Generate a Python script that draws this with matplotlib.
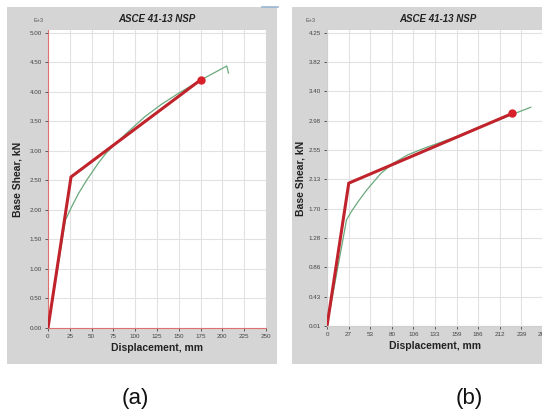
import matplotlib
matplotlib.use("Agg")
from matplotlib import pyplot as plt
from matplotlib.patches import Rectangle

plt.rcParams['font.family'] = ['Liberation Sans', 'DejaVu Sans']

# panel (a) values, base shear in E+3 kN
disp_a_curve = [0, 20, 27, 35, 45, 58, 67, 90, 111, 130, 150, 175, 190, 205, 207]
shear_a_curve = [0, 1.83, 2.05, 2.28, 2.52, 2.80, 2.97, 3.30, 3.58, 3.79, 3.98, 4.20, 4.32, 4.44, 4.32]
disp_a_bilin = [0, 26.4, 175.5]
shear_a_bilin = [0, 2.56, 4.21]
xticks_a = [0, 25, 50, 75, 100, 125, 150, 175, 200, 225, 250]
yticks_a = [0, 0.5, 1.0, 1.5, 2.0, 2.5, 3.0, 3.5, 4.0, 4.5, 5.0]
ylabels_a = ["0.00", "0.50", "1.00", "1.50", "2.00", "2.50", "3.00", "3.50", "4.00", "4.50", "5.00"]

# panel (b) values
disp_b_curve = [0, 24, 30, 38, 48, 58, 66, 80, 99, 120, 139, 160, 180, 205, 228, 250]
shear_b_curve = [0, 1.54, 1.66, 1.80, 1.96, 2.10, 2.21, 2.35, 2.48, 2.58, 2.66, 2.75, 2.85, 2.96, 3.07, 3.17]
disp_b_bilin = [0, 26.7, 227.3]
shear_b_bilin = [0, 2.07, 3.08]
xticks_b = [0, 26.5, 53, 79.5, 106, 132.5, 159, 185.5, 212, 238.5, 265]
xlabels_b = ["0", "27", "53", "80", "106", "133", "159", "186", "212", "239", "265"]
yticks_b = [0, 0.425, 0.85, 1.275, 1.7, 2.125, 2.55, 2.975, 3.4, 3.825, 4.25]
ylabels_b = ["0.01", "0.43", "0.86", "1.28", "1.70", "2.13", "2.55", "2.98", "3.40", "3.82", "4.25"]

W, H = 542, 419
def fx(px):
	return px / W
def fy(py):
	return 1 - py / H

fig = plt.figure(figsize=(W / 100, H / 100), dpi=100)
fig.patch.set_facecolor("white")

frame_col = "#d5d5d5"
fig.patches.append(Rectangle((fx(7), fy(364)), fx(277) - fx(7), fy(7) - fy(364),
	transform=fig.transFigure, facecolor=frame_col, edgecolor="none", zorder=-2))
fig.patches.append(Rectangle((fx(292), fy(364)), fx(545) - fx(292), fy(7) - fy(364),
	transform=fig.transFigure, facecolor=frame_col, edgecolor="none", zorder=-2))
fig.lines.append(plt.Line2D([fx(262), fx(278)], [fy(7), fy(7)], transform=fig.transFigure,
	color="#9ab6d0", lw=1.2, zorder=-1))

def make_panel(rect, xlim, ylim, xticks, xlabels, yticks, ylabels, spine_col, ypad):
	ax = fig.add_axes(rect)
	ax.set_zorder(1)
	ax.set_facecolor("white")
	ax.set_xlim(*xlim)
	ax.set_ylim(*ylim)
	ax.set_xticks(xticks)
	ax.set_xticklabels(xlabels)
	ax.set_yticks(yticks)
	ax.set_yticklabels(ylabels)
	ax.tick_params(labelsize=4.5, colors="#444444", length=2.5, width=0.6, pad=2)
	ax.grid(True, color="#e2e2e2", lw=0.8)
	ax.set_axisbelow(True)
	for s in ["top", "right"]:
		ax.spines[s].set_visible(False)
	for s in ["left", "bottom"]:
		ax.spines[s].set_color(spine_col)
		ax.spines[s].set_linewidth(0.8)
	ax.set_xlabel("Displacement, mm", fontsize=7.5, fontweight="bold", color="#222222", labelpad=3)
	ax.set_ylabel("Base Shear, kN", fontsize=7.5, fontweight="bold", color="#222222", labelpad=ypad)
	return ax

ax1 = make_panel([fx(48), fy(328), fx(266) - fx(48), fy(30) - fy(328)],
	(0, 250), (0, 5.05), xticks_a, [str(t) for t in xticks_a], yticks_a, ylabels_a, "#e07070", 5)
ax1.plot(disp_a_curve, shear_a_curve, color="#6aa97c", lw=0.9, zorder=3)
ax1.plot(disp_a_bilin, shear_a_bilin, color="#c0232b", lw=2.2, zorder=4, solid_joinstyle="miter")
ax1.plot(disp_a_bilin[-1], shear_a_bilin[-1], "o", color="#d8202a", ms=5, zorder=5)

ax2 = make_panel([fx(327), fy(326), fx(543) - fx(327), fy(30) - fy(326)],
	(0, 265), (0, 4.29), xticks_b, xlabels_b, yticks_b, ylabels_b, "#cfcfcf", 2)
ax2.plot(disp_b_curve, shear_b_curve, color="#6aa97c", lw=0.9, zorder=3)
ax2.plot(disp_b_bilin, shear_b_bilin, color="#c0232b", lw=2.2, zorder=4, solid_joinstyle="miter")
ax2.plot(disp_b_bilin[-1], shear_b_bilin[-1], "o", color="#d8202a", ms=5, zorder=5)

fig.text(fx(157), fy(19), "ASCE 41-13 NSP", fontsize=7, fontweight="bold", style="italic",
	ha="center", va="center", color="#222222")
fig.text(fx(438), fy(19), "ASCE 41-13 NSP", fontsize=7, fontweight="bold", style="italic",
	ha="center", va="center", color="#222222")
fig.text(fx(38), fy(20), "E+3", fontsize=4, ha="center", va="center", color="#555555")
fig.text(fx(310), fy(20), "E+3", fontsize=4, ha="center", va="center", color="#555555")

fig.text(fx(135), fy(398), "(a)", fontsize=16, ha="center", va="center", color="#111111")
fig.text(fx(469), fy(398), "(b)", fontsize=16, ha="center", va="center", color="#111111")

plt.savefig("out.png", dpi=100)
plt.close()
